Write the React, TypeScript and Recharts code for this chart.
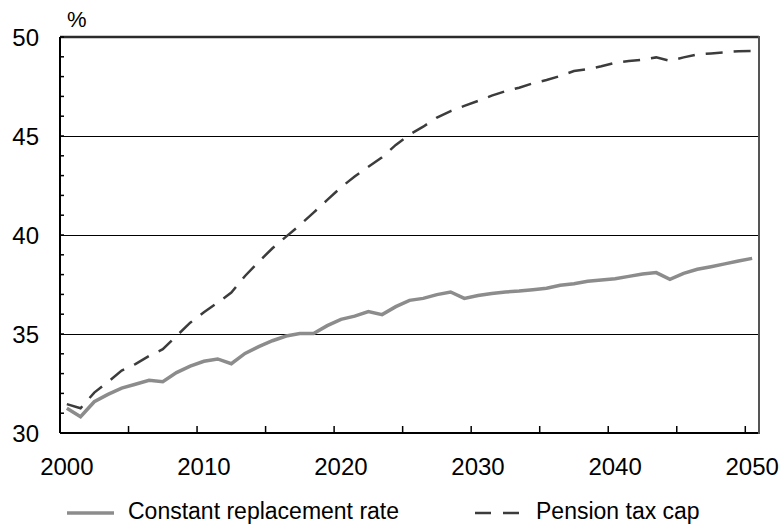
import { ComposedChart, Line, XAxis, YAxis, ReferenceLine, Legend } from 'recharts'

const years = Array.from({ length: 51 }, (_, i) => 2000 + i)

const constantRate = [
  31.25, 30.82, 31.58, 31.95, 32.27, 32.46, 32.66, 32.59, 33.05, 33.38,
  33.62, 33.74, 33.5, 34.02, 34.36, 34.66, 34.9, 35.02, 35.03, 35.42,
  35.74, 35.9, 36.13, 35.98, 36.38, 36.7, 36.8, 36.99, 37.12, 36.8,
  36.94, 37.05, 37.12, 37.17, 37.24, 37.31, 37.46, 37.54, 37.66, 37.73,
  37.79, 37.91, 38.03, 38.1, 37.76, 38.06, 38.27, 38.4, 38.54, 38.69, 38.82,
]

const taxCap = [
  31.46, 31.25, 32.04, 32.58, 33.15, 33.48, 33.89, 34.23, 34.9, 35.57,
  36.1, 36.58, 37.09, 37.93, 38.65, 39.33, 39.92, 40.5, 41.13, 41.77,
  42.41, 42.95, 43.45, 43.92, 44.55, 45.07, 45.47, 45.93, 46.26, 46.52,
  46.77, 47.04, 47.26, 47.44, 47.66, 47.83, 48.03, 48.28, 48.38, 48.52,
  48.7, 48.79, 48.85, 48.97, 48.8, 48.97, 49.12, 49.17, 49.23, 49.28, 49.3,
]

const yTicks = [30, 31, 32, 33, 34, 35, 36, 37, 38, 39, 40, 41, 42, 43, 44, 45, 46, 47, 48, 49, 50]
const yLabels = [30, 35, 40, 45, 50]
const gridValues = [35, 40, 45]
const xLabels = [2000, 2010, 2020, 2030, 2040, 2050]
const xTickMarks = [2005, 2010, 2015, 2020, 2025, 2030, 2035, 2040, 2045, 2050]

const data = years.map((year, i) => ({
  year,
  'Constant replacement rate': constantRate[i],
  'Pension tax cap': taxCap[i],
}))

const FONT = '"Liberation Sans", Arial, Helvetica, sans-serif'
const W = 783
const H = 526
const M = { top: 37, right: 24, left: 0, bottom: 43 }
const Y_AXIS_W = 60
const X_AXIS_H = 50
const PLOT_W = W - M.right - Y_AXIS_W
const BAND = PLOT_W / years.length
const X_MARGIN = 24
const Y_MARGIN = 21

const XTick = ({ x, y, payload }: any) => {
  const yr = payload.value
  const base = y - X_MARGIN
  return (
    <g>
      {xTickMarks.includes(yr) && (
        <line x1={x - BAND / 2} x2={x - BAND / 2} y1={base} y2={base - 7} stroke="#000" strokeWidth={1.5} />
      )}
      {xLabels.includes(yr) && (
        <text x={x} y={y + 18} textAnchor="middle" fontSize={24} fontFamily={FONT} fill="#000">{yr}</text>
      )}
    </g>
  )
}

const YTick = ({ x, y, payload }: any) => {
  const v = payload.value
  const axisX = x + Y_MARGIN
  return (
    <g>
      <line x1={axisX} x2={axisX + 4} y1={y} y2={y} stroke="#000" strokeWidth={1.5} />
      {yLabels.includes(v) && (
        <text x={x} y={y} dy="0.36em" textAnchor="end" fontSize={24} fontFamily={FONT} fill="#000">{v}</text>
      )}
    </g>
  )
}

const legendX = [67, 475]

const LegendContent = ({ payload }: any) => (
  <svg width={W} height={30}>
    {(payload || []).map((p: any, i: number) => (
      <g key={p.value}>
        <line
          x1={legendX[i]}
          x2={legendX[i] + 47}
          y1={15}
          y2={15}
          stroke={p.color}
          strokeWidth={p.payload?.strokeWidth ?? 3}
          strokeDasharray={p.payload?.strokeDasharray ? '16 12' : undefined}
        />
        <text x={legendX[i] + 61} y={21} fontSize={23} fontFamily={FONT} fill="#000">{p.value}</text>
      </g>
    ))}
  </svg>
)

// right-hand frame of the plot area (drawn as an overlay)
const rightX = W - M.right
const plotBottom = H - M.bottom - X_AXIS_H

export default function App() {
  return (
    <div style={{ position: 'absolute', left: 0, top: 0, width: W, height: H, background: '#fff' }}>
      <ComposedChart width={W} height={H} data={data} margin={M}>
        {gridValues.map(v => (
          <ReferenceLine key={v} y={v} stroke="#000" strokeWidth={1} shapeRendering="crispEdges" />
        ))}
        <ReferenceLine y={50} stroke="#2b2b2b" strokeWidth={2.5} />
        <XAxis
          dataKey="year"
          scale="band"
          interval={0}
          height={X_AXIS_H}
          tickSize={0}
          tickMargin={X_MARGIN}
          tickLine={false}
          axisLine={{ stroke: '#000', strokeWidth: 2 }}
          tick={<XTick />}
        />
        <YAxis
          type="number"
          domain={[30, 50]}
          ticks={yTicks}
          interval={0}
          width={Y_AXIS_W}
          tickSize={0}
          tickMargin={Y_MARGIN}
          tickLine={false}
          axisLine={{ stroke: '#000', strokeWidth: 2 }}
          tick={<YTick />}
          label={{
            content: ({ viewBox }: any) => (
              <text x={viewBox.x + viewBox.width + 7} y={viewBox.y - 10} fontSize={22} fontFamily={FONT} fill="#000">%</text>
            ),
          }}
        />
        <Legend
          verticalAlign="middle"
          align="center"
          layout="horizontal"
          wrapperStyle={{ top: 498, left: 0, width: W, height: 30 }}
          content={<LegendContent />}
        />
        <Line
          dataKey="Constant replacement rate"
          stroke="#8c8c8c"
          strokeWidth={3.5}
          dot={false}
          activeDot={false}
          isAnimationActive={false}
        />
        <Line
          dataKey="Pension tax cap"
          stroke="#3c3c3c"
          strokeWidth={2.5}
          strokeDasharray="17 11"
          dot={false}
          activeDot={false}
          isAnimationActive={false}
        />
      </ComposedChart>
      <div
        style={{
          position: 'absolute',
          left: rightX - 1,
          top: M.top - 1,
          width: 2,
          height: plotBottom - M.top + 2,
          background: '#555',
          pointerEvents: 'none',
          zIndex: 10,
        }}
      />
    </div>
  )
}
